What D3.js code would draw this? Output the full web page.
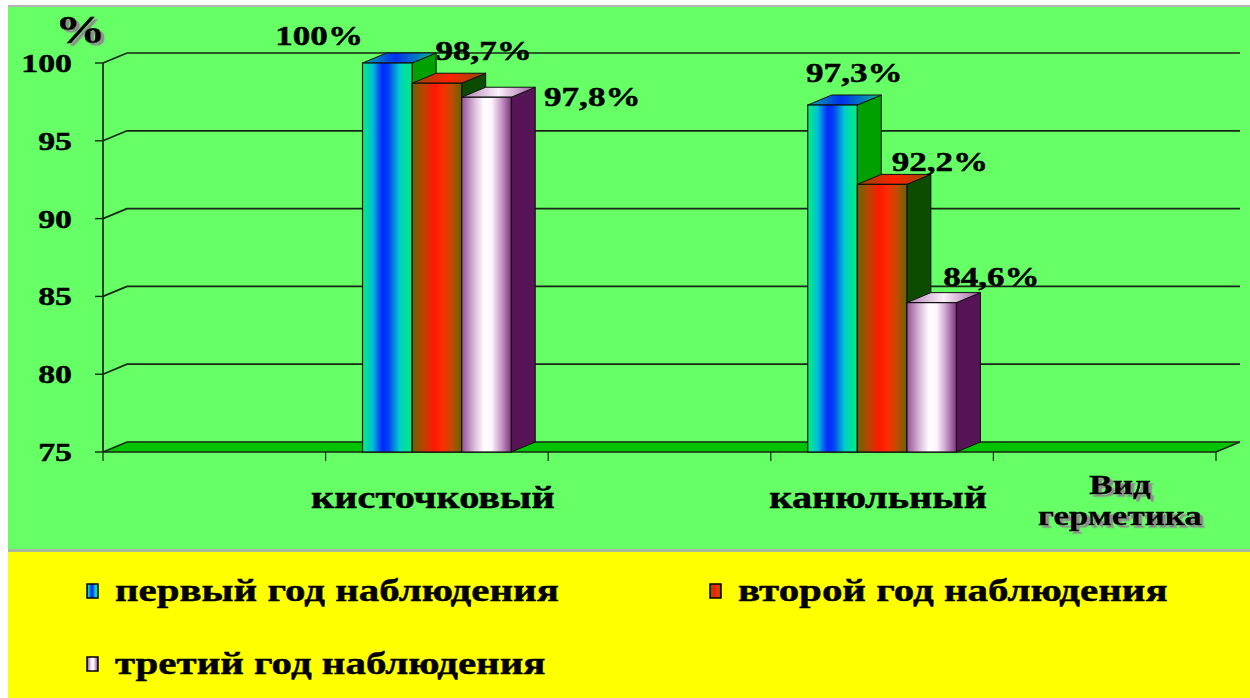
<!DOCTYPE html>
<html>
<head>
<meta charset="utf-8">
<script src="https://cdn.jsdelivr.net/npm/d3@7/dist/d3.min.js"></script>
<style>
  html, body { margin: 0; padding: 0; background: #ffffff; }
  svg { display: block; }
  text { font-family: "Liberation Serif", "Times New Roman", serif; font-weight: bold; fill: #000; stroke: #000; stroke-width: 0.45; }
</style>
</head>
<body>
<svg id="chart" width="1250" height="698"></svg>
<script>
// ---- data ----
const slots = ["", "кисточковый", "", "канюльный", ""];
const seriesNames = ["первый год наблюдения", "второй год наблюдения", "третий год наблюдения"];
const firstYear  = [null, 100, null, 97.3, null];
const secondYear = [null, 98.7, null, 92.2, null];
const thirdYear  = [null, 97.8, null, 84.6, null];
const yTicks = [75, 80, 85, 90, 95, 100];
const axisUnit = "%";
const axisTitle = ["Вид", "герметика"];

const series = [firstYear, secondYear, thirdYear];

// ---- layout ----
const W = 1250, H = 698;
const plot = { left: 103, right: 1216, top: 63, bottom: 452 };
const depth = { dx: 24, dy: -10 };
const SX = 1.3; // horizontal text stretch

const svg = d3.select("#chart");
const defs = svg.append("defs");

// soft grey drop shadow for the axis unit and axis title
const shadow = defs.append("filter").attr("id", "shadow")
  .attr("x", "-20%").attr("y", "-20%").attr("width", "140%").attr("height", "140%");
shadow.append("feDropShadow").attr("dx", 2.5).attr("dy", 2.5).attr("stdDeviation", 0.6)
  .attr("flood-color", "#8c8c8c").attr("flood-opacity", 1);

// face gradients for each series: front, top, side
const frontStops = [
  [[0, "#00f27a"], [0.2, "#00c0d8"], [0.4, "#0028ff"], [0.52, "#0040f4"], [0.75, "#00d0c8"], [1, "#00ee78"]],
  [[0, "#6a6400"], [0.25, "#c04000"], [0.45, "#ff1800"], [0.6, "#ff2c00"], [0.8, "#c04c00"], [1, "#646400"]],
  [[0, "#955098"], [0.25, "#d8b8d8"], [0.45, "#ffffff"], [0.6, "#fff6ff"], [0.8, "#c898c8"], [1, "#7e347e"]]
];
const topStops = [
  [[0, "#00b0a0"], [0.45, "#0030f0"], [1, "#00c090"]],
  [[0, "#8a4a00"], [0.5, "#ff2000"], [1, "#8a5000"]],
  [[0, "#b080b0"], [0.5, "#fbf0fb"], [1, "#a060a0"]]
];
const sideFill = ["#00a000", "#0c4c00", "#561456"];

function grad(id, stops) {
  const g = defs.append("linearGradient").attr("id", id)
    .attr("x1", "0%").attr("x2", "100%").attr("y1", "0%").attr("y2", "0%");
  stops.forEach(s => g.append("stop").attr("offset", s[0]).attr("stop-color", s[1]));
}
frontStops.forEach((s, i) => grad("front" + i, s));
topStops.forEach((s, i) => grad("top" + i, s));

// ---- background panels ----
svg.append("rect").attr("x", 0).attr("y", 0).attr("width", W).attr("height", H).attr("fill", "#ffffff");
svg.append("rect").attr("x", 8).attr("y", 5).attr("width", W - 8).attr("height", 2).attr("fill", "#b4b4b4");
svg.append("rect").attr("x", 8).attr("y", 7).attr("width", W - 8).attr("height", 542).attr("fill", "#66ff66");
svg.append("rect").attr("x", 8).attr("y", 549).attr("width", W - 8).attr("height", 3).attr("fill", "#a8b8a0");
svg.append("rect").attr("x", 8).attr("y", 552).attr("width", W - 8).attr("height", H - 552).attr("fill", "#ffff00");

// ---- scales ----
const x = d3.scaleBand().domain(d3.range(slots.length)).range([plot.left, plot.right]).padding(0);
const inner = d3.scaleBand().domain(d3.range(series.length)).range([0, x.bandwidth()])
  .paddingInner(0).paddingOuter(0.745);
const y = d3.scaleLinear().domain([75, 100]).range([plot.bottom, plot.top]);

function stretched(sel, tx, ty) {
  return sel.attr("x", 0).attr("y", 0).attr("transform", `translate(${tx},${ty}) scale(${SX},1)`);
}

const ink = "#142814";

// ---- back wall gridlines ----
const grid = svg.append("g");
yTicks.filter(t => t > 75).forEach(t => {
  const yy = y(t);
  grid.append("path")
    .attr("d", `M${plot.left},${yy} L${plot.left + depth.dx},${yy + depth.dy} L${plot.right + depth.dx},${yy + depth.dy}`)
    .attr("fill", "none").attr("stroke", ink).attr("stroke-width", 1.7);
});

// floor
const y0 = y(75);
svg.append("path")
  .attr("d", `M${plot.left},${y0} L${plot.left + depth.dx},${y0 + depth.dy} L${plot.right + depth.dx},${y0 + depth.dy} L${plot.right},${y0} Z`)
  .attr("fill", "#00c400").attr("stroke", ink).attr("stroke-width", 1.4);

// y axis line and ticks
svg.append("line").attr("x1", plot.left).attr("x2", plot.left).attr("y1", y(100)).attr("y2", y0)
  .attr("stroke", ink).attr("stroke-width", 1.7);
yTicks.forEach(t => {
  svg.append("line").attr("x1", plot.left - 8).attr("x2", plot.left).attr("y1", y(t)).attr("y2", y(t))
    .attr("stroke", ink).attr("stroke-width", 1.4);
  stretched(svg.append("text"), 72, y(t) + 9)
    .attr("text-anchor", "end").attr("font-size", 26).text(t);
});

// x axis ticks at slot boundaries
d3.range(slots.length + 1).forEach(i => {
  const xx = plot.left + i * x.step();
  svg.append("line").attr("x1", xx).attr("x2", xx).attr("y1", y0).attr("y2", y0 + 9)
    .attr("stroke", ink).attr("stroke-width", 1.2);
});

// ---- 3D bars ----
const bars = svg.append("g");
slots.forEach((cat, ci) => {
  series.forEach((vals, si) => {
    const v = vals[ci];
    if (v == null) return;
    const x0 = x(ci) + inner(si), x1 = x0 + inner.bandwidth();
    const yt = y(v);
    const { dx, dy } = depth;
    bars.append("path")
      .attr("d", `M${x1},${yt} L${x1 + dx},${yt + dy} L${x1 + dx},${y0 + dy} L${x1},${y0} Z`)
      .attr("fill", sideFill[si]).attr("stroke", "#101010").attr("stroke-width", 1);
    bars.append("path")
      .attr("d", `M${x0},${yt} L${x0 + dx},${yt + dy} L${x1 + dx},${yt + dy} L${x1},${yt} Z`)
      .attr("fill", `url(#top${si})`).attr("stroke", "#101010").attr("stroke-width", 1);
    bars.append("rect")
      .attr("x", x0).attr("y", yt).attr("width", x1 - x0).attr("height", y0 - yt)
      .attr("fill", `url(#front${si})`).attr("stroke", "#101010").attr("stroke-width", 1.2);
  });
});

// ---- value labels ----
// nudges from each bar's top back-right corner
const labelNudge = {
  "1-0": [-117, -8], "1-1": [-2, -13], "1-2": [57, 19],
  "3-0": [-27, -13], "3-1": [9, -3], "3-2": [11, -7]
};
slots.forEach((cat, ci) => {
  series.forEach((vals, si) => {
    const v = vals[ci];
    if (v == null) return;
    const cx = x(ci) + inner(si) + inner.bandwidth() + depth.dx;
    const cy = y(v) + depth.dy;
    const n = labelNudge[ci + "-" + si] || [0, -10];
    stretched(svg.append("text"), cx + n[0], cy + n[1])
      .attr("text-anchor", "middle").attr("font-size", 27)
      .text(String(v).replace(".", ",") + "%");
  });
});

// ---- category labels ----
slots.forEach((cat, ci) => {
  if (!cat) return;
  stretched(svg.append("text"), x(ci) + x.bandwidth() / 2 - 4, 508)
    .attr("text-anchor", "middle").attr("font-size", 31).text(cat);
});

// axis unit "%"
stretched(svg.append("text"), 55, 43).attr("font-size", 39)
  .attr("filter", "url(#shadow)").text(axisUnit);

// axis title
axisTitle.forEach((line, i) => {
  stretched(svg.append("text"), 1120, 494 + i * 31)
    .attr("text-anchor", "middle").attr("font-size", 27)
    .attr("filter", "url(#shadow)").text(line);
});

// ---- legend ----
const legendPos = [[87, 584], [710, 584], [87, 657]];
seriesNames.forEach((name, si) => {
  const [lx, ly] = legendPos[si];
  svg.append("rect").attr("x", lx).attr("y", ly).attr("width", 11).attr("height", 14)
    .attr("fill", `url(#front${si})`).attr("stroke", "#000").attr("stroke-width", 1.5);
  stretched(svg.append("text"), lx + 28, ly + 17)
    .attr("font-size", 31.5).text(name);
});
</script>
</body>
</html>
